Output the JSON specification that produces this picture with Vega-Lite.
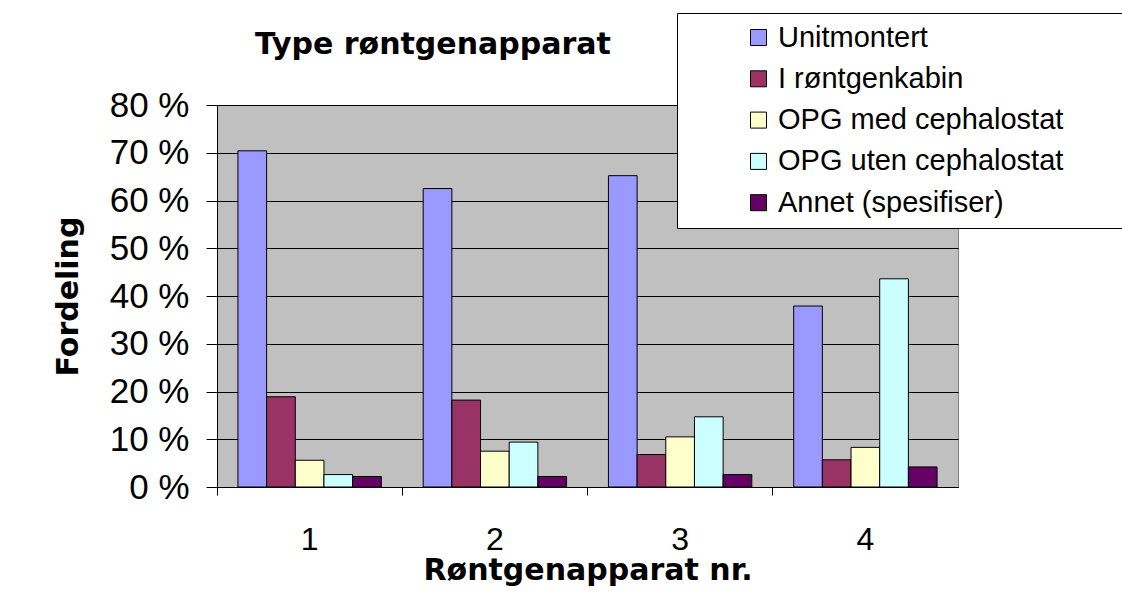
{
  "$schema": "https://vega.github.io/schema/vega-lite/v6.json",
  "width": 741,
  "height": 382,
  "autosize": {"type": "none"},
  "padding": {"left": 217, "top": 105, "right": 164, "bottom": 108},
  "background": "white",
  "title": {
    "text": "Type røntgenapparat",
    "font": "DejaVu Sans",
    "fontSize": 30,
    "fontWeight": "bold",
    "color": "black",
    "anchor": "start",
    "frame": "group",
    "dx": 38,
    "baseline": "alphabetic",
    "offset": -71
  },
  "data": {
    "values": [
      {"apparat": "1", "type": "Unitmontert", "andel": 70.4},
      {"apparat": "1", "type": "I røntgenkabin", "andel": 18.9},
      {"apparat": "1", "type": "OPG med cephalostat", "andel": 5.6},
      {"apparat": "1", "type": "OPG uten cephalostat", "andel": 2.6},
      {"apparat": "1", "type": "Annet (spesifiser)", "andel": 2.2},
      {"apparat": "2", "type": "Unitmontert", "andel": 62.5},
      {"apparat": "2", "type": "I røntgenkabin", "andel": 18.2},
      {"apparat": "2", "type": "OPG med cephalostat", "andel": 7.5},
      {"apparat": "2", "type": "OPG uten cephalostat", "andel": 9.4},
      {"apparat": "2", "type": "Annet (spesifiser)", "andel": 2.2},
      {"apparat": "3", "type": "Unitmontert", "andel": 65.2},
      {"apparat": "3", "type": "I røntgenkabin", "andel": 6.8},
      {"apparat": "3", "type": "OPG med cephalostat", "andel": 10.5},
      {"apparat": "3", "type": "OPG uten cephalostat", "andel": 14.7},
      {"apparat": "3", "type": "Annet (spesifiser)", "andel": 2.6},
      {"apparat": "4", "type": "Unitmontert", "andel": 37.9},
      {"apparat": "4", "type": "I røntgenkabin", "andel": 5.7},
      {"apparat": "4", "type": "OPG med cephalostat", "andel": 8.3},
      {"apparat": "4", "type": "OPG uten cephalostat", "andel": 43.6},
      {"apparat": "4", "type": "Annet (spesifiser)", "andel": 4.2}
    ]
  },
  "mark": {"type": "bar", "stroke": "black", "strokeWidth": 1},
  "encoding": {
    "x": {
      "field": "apparat",
      "type": "nominal",
      "scale": {"paddingInner": 0, "paddingOuter": 0},
      "axis": {
        "title": "Røntgenapparat nr.",
        "titleFont": "DejaVu Sans",
        "titleFontSize": 30,
        "titleFontWeight": "bold",
        "titleColor": "black",
        "titlePadding": 0,
        "labelAngle": 0,
        "labelFont": "Liberation Sans",
        "labelFontSize": 32,
        "labelColor": "black",
        "labelPadding": 29,
        "bandPosition": 0,
        "ticks": true,
        "tickSize": 8,
        "tickColor": "black",
        "domainColor": "black",
        "grid": false
      }
    },
    "xOffset": {
      "field": "type",
      "type": "nominal",
      "sort": ["Unitmontert", "I røntgenkabin", "OPG med cephalostat", "OPG uten cephalostat", "Annet (spesifiser)"],
      "scale": {"paddingInner": 0, "paddingOuter": 0.73}
    },
    "y": {
      "field": "andel",
      "type": "quantitative",
      "scale": {"domain": [0, 80], "nice": false},
      "axis": {
        "title": "Fordeling",
        "titleFont": "DejaVu Sans",
        "titleFontSize": 30,
        "titleFontWeight": "bold",
        "titleColor": "black",
        "titlePadding": 26,
        "values": [0, 10, 20, 30, 40, 50, 60, 70, 80],
        "labelExpr": "datum.value + ' %'",
        "labelFont": "Liberation Sans",
        "labelFontSize": 35,
        "labelColor": "black",
        "labelPadding": 17,
        "tickSize": 11,
        "tickColor": "black",
        "domainColor": "black",
        "gridColor": "black",
        "gridWidth": 1
      }
    },
    "color": {
      "field": "type",
      "type": "nominal",
      "sort": ["Unitmontert", "I røntgenkabin", "OPG med cephalostat", "OPG uten cephalostat", "Annet (spesifiser)"],
      "scale": {
        "domain": ["Unitmontert", "I røntgenkabin", "OPG med cephalostat", "OPG uten cephalostat", "Annet (spesifiser)"],
        "range": ["#9999FF", "#993366", "#FFFFCC", "#CCFFFF", "#660066"]
      },
      "legend": {
        "title": null,
        "orient": "none",
        "legendX": 460,
        "legendY": -92,
        "fillColor": "white",
        "strokeColor": "black",
        "padding": 10,
        "symbolType": "square",
        "symbolSize": 256,
        "symbolStrokeColor": "black",
        "symbolStrokeWidth": 1,
        "symbolOpacity": 1,
        "symbolOffset": 57,
        "labelOffset": 5,
        "labelFont": "Liberation Sans",
        "labelFontSize": 29,
        "labelColor": "black",
        "labelLimit": 800,
        "labelExpr": "datum.label + '\u00a0\u00a0\u00a0\u00a0\u00a0\u00a0\u00a0\u200b'",
        "rowPadding": 11.3
      }
    }
  },
  "config": {
    "view": {"fill": "#C0C0C0", "stroke": "#808080", "strokeWidth": 1}
  }
}
